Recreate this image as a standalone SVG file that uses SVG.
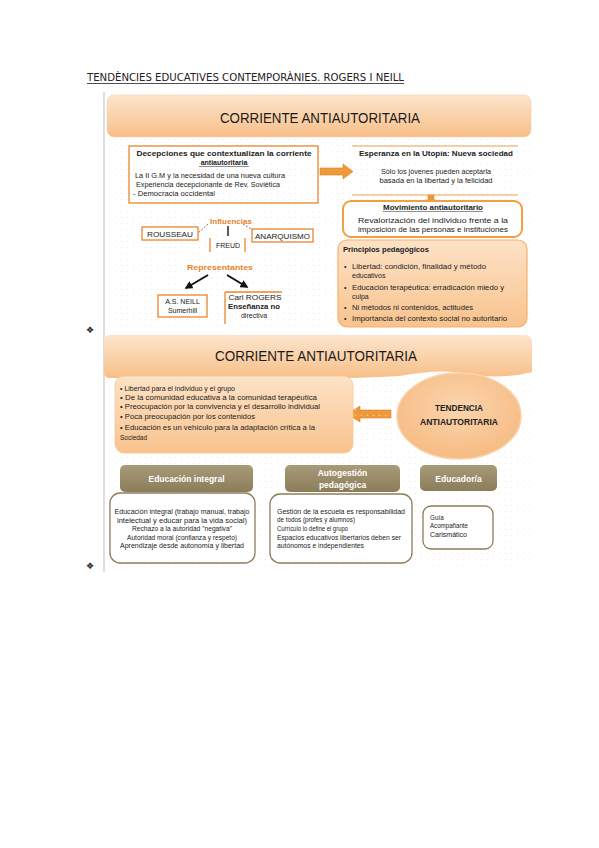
<svg xmlns="http://www.w3.org/2000/svg" width="599" height="848" viewBox="0 0 599 848">
<defs>
<linearGradient id="gOr" x1="0" y1="0" x2="0" y2="1"><stop offset="0" stop-color="#fde5cc"/><stop offset="1" stop-color="#f7bf88"/></linearGradient>
<linearGradient id="gOr2" x1="0" y1="0" x2="0" y2="1"><stop offset="0" stop-color="#fde2c6"/><stop offset="1" stop-color="#f8c38e"/></linearGradient>
<linearGradient id="gBr" x1="0" y1="0" x2="0" y2="1"><stop offset="0" stop-color="#a89b7a"/><stop offset="1" stop-color="#8c7d59"/></linearGradient>
<radialGradient id="gEl" cx="0.5" cy="0.4" r="0.6"><stop offset="0" stop-color="#fbd5ae"/><stop offset="1" stop-color="#f6bb83"/></radialGradient>
<pattern id="dots" width="6" height="6" patternUnits="userSpaceOnUse"><circle cx="1.5" cy="1.5" r="0.6" fill="#f1e6d6"/></pattern>
<marker id="ah" viewBox="0 0 10 10" refX="8" refY="5" markerWidth="4" markerHeight="4" orient="auto"><path d="M0,0 L10,5 L0,10 z" fill="#111"/></marker>
<style>
text{font-family:"Liberation Sans",Arial,sans-serif;fill:#222}
.t{font-size:7px}
.s{font-size:6.5px}
.b{font-weight:bold}
.c{text-anchor:middle}
.hd{font-size:14px;fill:#1a1a1a}
.or{fill:#e8822a;font-weight:bold;font-size:8px}
.wh{fill:#fff;font-size:8.5px;font-weight:bold;text-anchor:middle}
.obox{fill:none;stroke:#e8852a;stroke-width:1.3}
.bbox{fill:#fff;stroke:#8c7d59;stroke-width:1.3}
</style>
</defs>
<rect width="599" height="848" fill="#fff"/>

<!-- title -->
<text x="87" y="81" style="font-family:'DejaVu Sans Condensed','DejaVu Sans',sans-serif;font-size:10.5px;fill:#222" textLength="317" lengthAdjust="spacingAndGlyphs">TENDÈNCIES EDUCATIVES CONTEMPORÀNIES. ROGERS I NEILL</text>
<line x1="87" y1="83.5" x2="404" y2="83.5" stroke="#222" stroke-width="0.8"/>

<!-- image 1 background -->
<rect x="104" y="92" width="428" height="238" fill="url(#dots)"/>
<line x1="104" y1="92" x2="104" y2="330" stroke="#c9c9c9" stroke-width="1.2"/>

<g id="header1">
<rect x="107" y="95" width="424" height="42" rx="7" fill="url(#gOr)" stroke="#f0d0b0" stroke-width="0.6"/>
<text x="320" y="123" class="hd c" textLength="200" lengthAdjust="spacingAndGlyphs">CORRIENTE ANTIAUTORITARIA</text>
</g>

<g id="decepciones">
<rect x="129" y="146" width="189" height="57" class="obox" stroke-width="1.6"/>
<text x="224" y="156" class="t b c" textLength="175" lengthAdjust="spacingAndGlyphs">Decepciones que contextualizan la corriente</text>
<text x="224" y="165" class="t b c">antiautoritaria</text>
<line x1="199" y1="166.5" x2="249" y2="166.5" stroke="#222" stroke-width="0.5"/>
<text x="135" y="178" class="t" textLength="150" lengthAdjust="spacingAndGlyphs">La II G.M y la necesidad de una nueva cultura</text>
<text x="136" y="187" class="t" textLength="144" lengthAdjust="spacingAndGlyphs">Experiencia decepcionante de Rev. Soviética</text>
<text x="133" y="196" class="t" textLength="82" lengthAdjust="spacingAndGlyphs">- Democracia occidental</text>
</g>

<g id="connectors">
<path d="M320,168 L343,168 L343,164 L353,171.5 L343,179 L343,175 L320,175 z" fill="#ef9a3a" stroke="#d77f22" stroke-width="0.6"/>
<path d="M428,195 L434,195 L434,200 L437,200 L431,206 L425,200 L428,200 z" fill="#ef9a3a" stroke="#d77f22" stroke-width="0.5"/>
<line x1="228" y1="226" x2="228" y2="236" stroke="#333" stroke-width="1.6"/>
<line x1="208" y1="224" x2="198" y2="233" stroke="#777" stroke-width="1" stroke-dasharray="2,1.5"/>
<line x1="243" y1="224" x2="253" y2="230" stroke="#777" stroke-width="1" stroke-dasharray="2,1.5"/>
<line x1="208" y1="275" x2="186" y2="288" stroke="#111" stroke-width="2" marker-end="url(#ah)"/>
<line x1="227" y1="275" x2="247" y2="287" stroke="#111" stroke-width="2" marker-end="url(#ah)"/>
<path d="M391,410 L360,410 L360,406 L347,414 L360,422 L360,418 L391,418 z" fill="#ef9a3a" stroke="#d77f22" stroke-width="0.6"/>
</g>

<g id="esperanza">
<line x1="352" y1="146" x2="518" y2="146" stroke="#f0a050" stroke-width="1.2"/>
<line x1="352" y1="195" x2="518" y2="195" stroke="#f0a050" stroke-width="1.2"/>
<text x="436" y="156" class="t b c" textLength="154" lengthAdjust="spacingAndGlyphs">Esperanza en la Utopía: Nueva sociedad</text>
<text x="436" y="174" class="t c" textLength="110" lengthAdjust="spacingAndGlyphs">Sólo los jóvenes pueden aceptarla</text>
<text x="436" y="183" class="t c" textLength="113" lengthAdjust="spacingAndGlyphs">basada en la libertad y la felicidad</text>
</g>

<g id="movimiento">
<rect x="343" y="201" width="179" height="36" rx="8" fill="#fff" stroke="#f0a040" stroke-width="2"/>
<text x="433" y="210" class="t b c" textLength="100" lengthAdjust="spacingAndGlyphs">Movimiento antiautoritario</text>
<line x1="383" y1="211.5" x2="483" y2="211.5" stroke="#222" stroke-width="0.5"/>
<text x="433" y="223" class="t c" textLength="150" lengthAdjust="spacingAndGlyphs">Revalorización del individuo frente a la</text>
<text x="433" y="232" class="t c" textLength="150" lengthAdjust="spacingAndGlyphs">imposición de las personas e instituciones</text>
</g>

<g id="influencias">
<text x="231" y="224" class="or c">Influencias</text>
</g>
<g id="rousseau">
<rect x="142" y="227" width="56" height="13" class="obox"/>
<text x="170" y="236.5" class="t c" textLength="46" lengthAdjust="spacingAndGlyphs">ROUSSEAU</text>
</g>
<g id="anarquismo">
<rect x="252" y="229" width="61" height="13" class="obox"/>
<text x="282.5" y="238.5" class="t c" textLength="55" lengthAdjust="spacingAndGlyphs">ANARQUISMO</text>
</g>
<g id="freud">
<line x1="210" y1="238" x2="210" y2="252" stroke="#e8852a" stroke-width="1.3"/>
<line x1="245" y1="238" x2="245" y2="252" stroke="#e8852a" stroke-width="1.3"/>
<text x="228" y="248" class="t c">FREUD</text>
</g>

<g id="representantes">
<text x="220" y="270" class="or c" textLength="66" lengthAdjust="spacingAndGlyphs">Representantes</text>
</g>
<g id="neill">
<rect x="158" y="295" width="49" height="22" class="obox"/>
<text x="182.5" y="304" class="t c">A.S. NEILL</text>
<text x="182.5" y="313" class="t c">Sumerhill</text>
</g>
<g id="rogers">
<line x1="225" y1="292" x2="225" y2="324" stroke="#e8852a" stroke-width="1.3"/>
<line x1="225" y1="292" x2="282" y2="292" stroke="#e8852a" stroke-width="1.3"/>
<text x="255" y="300" class="t c" textLength="53" lengthAdjust="spacingAndGlyphs">Carl ROGERS</text>
<text x="228" y="309" class="t b" textLength="52" lengthAdjust="spacingAndGlyphs">Enseñanza no</text>
<text x="254" y="318" class="t c">directiva</text>
</g>

<g id="principios">
<rect x="338" y="240" width="189" height="87" rx="9" fill="url(#gOr2)" stroke="#f4b070" stroke-width="1.2"/>
<text x="343" y="252" class="t b" textLength="86" lengthAdjust="spacingAndGlyphs">Principios pedagógicos</text>
<text x="344" y="269" class="t">•</text>
<text x="352" y="269" class="t" textLength="134" lengthAdjust="spacingAndGlyphs">Libertad: condición, finalidad y método</text>
<text x="352" y="278" class="t">educativos</text>
<text x="344" y="290" class="t">•</text>
<text x="352" y="290" class="t" textLength="152" lengthAdjust="spacingAndGlyphs">Educación terapéutica: erradicación miedo y</text>
<text x="352" y="299" class="t">culpa</text>
<text x="344" y="310" class="t">•</text>
<text x="352" y="310" class="t" textLength="121" lengthAdjust="spacingAndGlyphs">Ni métodos ni contenidos, actitudes</text>
<text x="344" y="321" class="t">•</text>
<text x="352" y="321" class="t" textLength="155" lengthAdjust="spacingAndGlyphs">Importancia del contexto social no autoritario</text>
</g>

<text x="90" y="333" style="font-family:'DejaVu Sans',sans-serif;font-size:9px" class="c">❖</text>

<!-- image 2 background -->
<rect x="104" y="333" width="428" height="237" fill="url(#dots)"/>
<line x1="104" y1="330" x2="104" y2="572" stroke="#c9c9c9" stroke-width="1.2"/>

<g id="header2">
<path d="M110,335 L525,335 Q532,335 532,342 L532,372 Q500,380 470,374 Q440,368 400,376 Q330,380 250,377 L110,378 Q104,378 104,372 L104,341 Q104,335 110,335 z" fill="url(#gOr)"/>
<text x="316" y="361" class="hd c" textLength="202" lengthAdjust="spacingAndGlyphs">CORRIENTE ANTIAUTORITARIA</text>
</g>

<g id="lista">
<rect x="115" y="376" width="238" height="77" rx="9" fill="url(#gOr2)" stroke="#f6c898" stroke-width="0.8"/>
<text x="120" y="391" class="s" textLength="115" lengthAdjust="spacingAndGlyphs">• Libertad para el individuo y el grupo</text>
<text x="120" y="400" class="s" textLength="197" lengthAdjust="spacingAndGlyphs">• De la comunidad educativa a la comunidad terapéutica</text>
<text x="120" y="409" class="s" textLength="200" lengthAdjust="spacingAndGlyphs">• Preocupación por la convivencia y el desarrollo individual</text>
<text x="120" y="419" class="s" textLength="135" lengthAdjust="spacingAndGlyphs">• Poca preocupación por los contenidos</text>
<text x="120" y="430" class="s" textLength="195" lengthAdjust="spacingAndGlyphs">• Educación es un vehículo para la adaptación crítica a la</text>
<text x="120" y="440" class="s">Sociedad</text>
</g>

<g id="tendencia">
<ellipse cx="459" cy="416" rx="62" ry="43" fill="url(#gEl)" stroke="#f8d2a8" stroke-width="1.5"/>
<text x="459" y="411" class="c b" style="font-size:8.5px" textLength="48" lengthAdjust="spacingAndGlyphs">TENDENCIA</text>
<text x="459" y="425" class="c b" style="font-size:8.5px" textLength="78" lengthAdjust="spacingAndGlyphs">ANTIAUTORITARIA</text>
</g>

<g id="educacion-integral">
<rect x="120" y="465" width="133" height="27" rx="5" fill="url(#gBr)"/>
<text x="186.5" y="482" class="wh">Educación integral</text>
<rect x="110" y="493" width="145" height="70" rx="10" class="bbox"/>
<text x="182" y="514" class="c" style="font-size:6.3px" textLength="135" lengthAdjust="spacingAndGlyphs">Educación integral (trabajo manual, trabajo</text>
<text x="182" y="523" class="c" style="font-size:6.3px" textLength="130" lengthAdjust="spacingAndGlyphs">intelectual y educar para la vida social)</text>
<text x="182" y="531" class="c" style="font-size:6.3px" textLength="100" lengthAdjust="spacingAndGlyphs">Rechazo a la autoridad "negativa"</text>
<text x="182" y="540" class="c" style="font-size:6.3px" textLength="110" lengthAdjust="spacingAndGlyphs">Autoridad moral (confianza y respeto)</text>
<text x="182" y="548" class="c" style="font-size:6.3px" textLength="124" lengthAdjust="spacingAndGlyphs">Aprendizaje desde autonomía y libertad</text>
</g>

<g id="autogestion">
<rect x="285" y="465" width="115" height="27" rx="5" fill="url(#gBr)"/>
<text x="342.5" y="476" class="wh">Autogestión</text>
<text x="342.5" y="488" class="wh">pedagógica</text>
<rect x="270" y="494" width="142" height="69" rx="10" class="bbox"/>
<text x="277" y="514" style="font-size:6.3px" textLength="128" lengthAdjust="spacingAndGlyphs">Gestión de la escuela es responsabilidad</text>
<text x="277" y="522" style="font-size:6.3px" textLength="78" lengthAdjust="spacingAndGlyphs">de todos (profes y alumnos)</text>
<text x="277" y="531" style="font-size:6.3px" textLength="71" lengthAdjust="spacingAndGlyphs">Currículo lo define el grupo</text>
<text x="277" y="540" style="font-size:6.3px" textLength="124" lengthAdjust="spacingAndGlyphs">Espacios educativos libertarios deben ser</text>
<text x="277" y="548" style="font-size:6.3px" textLength="87" lengthAdjust="spacingAndGlyphs">autónomos e independientes</text>
</g>

<g id="educador">
<rect x="420" y="465" width="77" height="26" rx="5" fill="url(#gBr)"/>
<text x="458.5" y="482" class="wh">Educador/a</text>
<rect x="423" y="506" width="70" height="43" rx="8" class="bbox"/>
<text x="430" y="520" style="font-size:6.3px">Guía</text>
<text x="430" y="528" style="font-size:6.3px" textLength="38" lengthAdjust="spacingAndGlyphs">Acompañante</text>
<text x="430" y="537" style="font-size:6.3px" textLength="37" lengthAdjust="spacingAndGlyphs">Carismático</text>
</g>

<text x="90" y="569" style="font-family:'DejaVu Sans',sans-serif;font-size:9px" class="c">❖</text>
</svg>
